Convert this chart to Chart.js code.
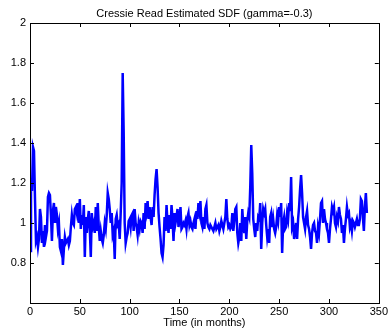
<!DOCTYPE html>
<html>
<head>
<meta charset="utf-8">
<script src="https://cdn.jsdelivr.net/npm/chart.js@4/dist/chart.umd.min.js"></script>
<style>
  html, body { margin: 0; padding: 0; background: #fff; }
  #wrap { width: 390px; height: 331px; }
</style>
</head>
<body>
<div id="wrap"><canvas id="myChart" width="390" height="331"></canvas></div>
<script>
var titleText = 'Cressie Read Estimated SDF (gamma=-0.3)';
var xLabel = 'Time (in months)';
var xTicks = [0, 50, 100, 150, 200, 250, 300, 350];
var yTicks = [0.6, 0.8, 1, 1.2, 1.4, 1.6, 1.8, 2];

// estimated SDF, one value per month starting at 0
var sdf = [
  0.86, 1.20, 1.16, 1.38, 1.36, 1.12, 0.91, 0.93, 0.88, 0.92,
  1.07, 1.03, 0.90, 0.96, 0.88, 0.99, 0.93, 0.96, 1.13, 1.15,
  1.14, 1.04, 0.91, 1.06, 1.10, 1.00, 1.08, 1.04, 0.97, 1.00,
  0.88, 0.86, 0.92, 0.79, 0.87, 0.93, 0.90, 0.91, 0.92, 0.89,
  0.91, 0.98, 1.04, 1.00, 0.99, 1.07, 1.08, 1.05, 1.10, 1.00,
  1.12, 0.97, 1.04, 0.99, 1.09, 0.83, 1.03, 0.95, 1.02, 1.06,
  0.97, 0.83, 1.05, 0.98, 1.00, 0.95, 1.08, 0.96, 1.10, 0.98,
  0.91, 0.96, 0.92, 0.90, 0.94, 1.00, 0.97, 1.04, 1.15, 1.12,
  1.07, 1.00, 1.05, 0.94, 0.96, 0.82, 1.02, 1.04, 0.99, 1.00,
  0.92, 1.05, 1.20, 1.75, 1.45, 1.00, 0.90, 0.93, 0.95, 1.01,
  1.02, 0.98, 1.04, 1.05, 0.96, 1.07, 1.00, 0.98, 0.94, 1.00,
  0.97, 1.01, 1.00, 0.95, 1.05, 0.97, 1.10, 1.06, 1.11, 1.02,
  1.08, 1.03, 0.99, 1.08, 1.03, 1.14, 1.22, 1.27, 1.18, 1.05,
  0.98, 0.92, 0.85, 0.83, 0.89, 1.03, 0.96, 1.09, 1.00, 0.95,
  1.04, 0.97, 1.09, 1.02, 0.91, 1.05, 1.00, 1.03, 1.07, 0.98,
  1.02, 1.08, 0.97, 0.98, 1.00, 0.99, 1.01, 0.97, 1.03, 1.05,
  0.99, 1.01, 0.98, 0.97, 1.00, 1.02, 0.97, 1.06, 1.02, 1.10,
  1.06, 1.11, 1.00, 0.98, 1.03, 0.97, 1.07, 1.09, 1.00, 0.98,
  0.97, 0.99, 0.98, 0.97, 0.96, 0.98, 1.00, 0.97, 0.98, 0.99,
  0.96, 0.98, 1.01, 0.99, 0.97, 1.00, 1.03, 1.12, 1.02, 0.98,
  0.99, 0.97, 0.98, 1.05, 0.96, 1.01, 1.07, 1.08, 0.95, 0.90,
  0.93, 1.00, 0.91, 1.07, 0.99, 0.95, 1.03, 0.92, 1.01, 1.05,
  1.03, 1.18, 1.39, 1.25, 1.02, 0.97, 0.93, 1.00, 0.96, 1.03,
  1.02, 1.10, 0.87, 1.00, 1.07, 1.05, 1.07, 0.99, 0.93, 0.97,
  0.90, 1.03, 1.05, 0.98, 1.02, 0.97, 0.95, 0.98, 1.04, 1.01,
  1.08, 1.03, 1.10, 0.85, 1.00, 1.03, 0.97, 0.98, 1.05, 1.02,
  1.10, 1.06, 1.23, 0.98, 1.00, 0.92, 0.96, 1.00, 0.92, 1.02,
  1.08, 1.17, 1.24, 1.15, 1.03, 1.00, 0.97, 1.03, 1.06, 0.99,
  0.97, 0.93, 0.87, 0.95, 0.99, 1.00, 0.96, 0.95, 0.90, 0.98,
  0.95, 1.02, 1.10, 1.11, 1.00, 1.07, 1.02, 1.00, 0.97, 0.95,
  0.90, 0.97, 1.02, 1.08, 1.06, 1.08, 1.00, 0.98, 1.03, 1.01,
  1.08, 1.04, 1.02, 0.95, 0.99, 0.90, 0.97, 1.02, 1.08, 1.04,
  1.05, 0.98, 1.00, 0.96, 1.01, 1.00, 0.98, 1.00, 1.02, 0.99,
  0.99, 1.02, 1.12, 1.11, 1.03, 0.96, 1.08, 1.15, 1.05
];

var points = sdf.map(function (v, i) { return { x: i, y: v }; });

var FONT = '11px "Liberation Sans", Arial, sans-serif';

// matlab style box with inward ticks and the title
var boxPlugin = {
  id: 'box',
  afterDraw: function (chart) {
    var c = chart.ctx, a = chart.chartArea;
    var xs = chart.scales.x, ys = chart.scales.y;
    c.save();
    c.strokeStyle = '#000';
    c.lineWidth = 1;
    c.strokeRect(Math.round(a.left) + 0.5, Math.round(a.top) + 0.5,
      Math.round(a.right - a.left), Math.round(a.bottom - a.top));
    c.beginPath();
    xTicks.forEach(function (t) {
      var px = Math.round(xs.getPixelForValue(t)) + 0.5;
      c.moveTo(px, a.bottom); c.lineTo(px, a.bottom - 4);
      c.moveTo(px, a.top); c.lineTo(px, a.top + 4);
    });
    yTicks.forEach(function (t) {
      var py = Math.round(ys.getPixelForValue(t)) + 0.5;
      c.moveTo(a.left, py); c.lineTo(a.left + 4, py);
      c.moveTo(a.right, py); c.lineTo(a.right - 4, py);
    });
    c.stroke();
    c.fillStyle = '#000';
    c.font = FONT;
    c.textAlign = 'center';
    c.textBaseline = 'middle';
    c.fillText(titleText, (a.left + a.right) / 2, 14);
    c.restore();
  }
};

var ctx = document.getElementById('myChart').getContext('2d');
var chart = new Chart(ctx, {
  type: 'line',
  data: {
    datasets: [{
      data: points,
      borderColor: '#0000ff',
      borderWidth: 2.5,
      pointRadius: 0,
      tension: 0,
      fill: false
    }]
  },
  options: {
    responsive: false,
    animation: false,
    events: [],
    layout: { padding: { top: 23, right: 8, left: 0, bottom: 0 } },
    plugins: { legend: { display: false }, tooltip: { enabled: false }, title: { display: false } },
    scales: {
      x: {
        type: 'linear',
        min: 0, max: 350,
        afterBuildTicks: function (s) { s.ticks = xTicks.map(function (v) { return { value: v }; }); },
        afterFit: function (s) { s.height = 28; },
        grid: { display: false, drawTicks: false },
        border: { display: false },
        ticks: { color: '#000', font: { family: '"Liberation Sans", Arial, sans-serif', size: 11 }, padding: 2, maxRotation: 0 },
        title: { display: true, text: xLabel, color: '#000', font: { family: '"Liberation Sans", Arial, sans-serif', size: 11 }, padding: { top: 0, bottom: 1 } }
      },
      y: {
        min: 0.6, max: 2,
        afterBuildTicks: function (s) { s.ticks = yTicks.map(function (v) { return { value: v }; }); },
        afterFit: function (s) { s.width = 30; },
        grid: { display: false, drawTicks: false },
        border: { display: false },
        ticks: {
          color: '#000',
          font: { family: '"Liberation Sans", Arial, sans-serif', size: 11 },
          padding: 4,
          callback: function (v) { return v === 0.6 ? '' : String(Math.round(v * 10) / 10); }
        }
      }
    }
  },
  plugins: [boxPlugin]
});
</script>
</body>
</html>
